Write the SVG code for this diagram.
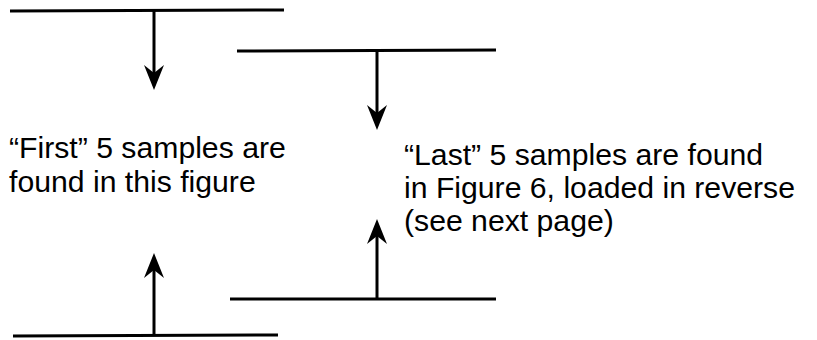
<svg xmlns="http://www.w3.org/2000/svg" width="817" height="340" viewBox="0 0 817 340">
<style>
.ln{stroke:#000;stroke-width:3;fill:none}
.t{font-family:"Liberation Sans",Arial,sans-serif;font-size:30.2px;fill:#000}
</style>
<defs>
<path id="headDown" d="M0,0 L-10,-25 L0,-17 L10,-25 Z" fill="#000"/>
</defs>
<rect width="817" height="340" fill="#fff"/>
<g id="connectors">
<line class="ln" x1="10" y1="11" x2="284" y2="10"/>
<line class="ln" x1="154" y1="11" x2="154" y2="80"/>
<use href="#headDown" transform="translate(154,90)"/>
<line class="ln" x1="237" y1="51" x2="496" y2="50"/>
<line class="ln" x1="377" y1="50" x2="377" y2="120"/>
<use href="#headDown" transform="translate(377,130)"/>
<line class="ln" x1="13" y1="336" x2="278" y2="335"/>
<line class="ln" x1="154" y1="335" x2="154" y2="263"/>
<use href="#headDown" transform="translate(154,253) rotate(180)"/>
<line class="ln" x1="230" y1="299" x2="496" y2="299"/>
<line class="ln" x1="377" y1="299" x2="377" y2="229"/>
<use href="#headDown" transform="translate(377,219) rotate(180)"/>
</g>
<g id="label-first">
<text class="t" x="9" y="158">“First” 5 samples are</text>
<text class="t" x="9" y="192">found in this figure</text>
</g>
<g id="label-last">
<text class="t" x="404" y="165">“Last” 5 samples are found</text>
<text class="t" x="404" y="198">in Figure 6, loaded in reverse</text>
<text class="t" x="404" y="231">(see next page)</text>
</g>
</svg>
